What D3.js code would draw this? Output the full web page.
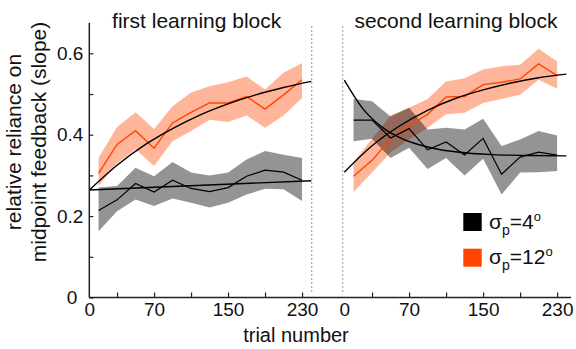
<!DOCTYPE html>
<html>
<head>
<meta charset="utf-8">
<script src="https://cdn.jsdelivr.net/npm/d3@7"></script>
<style>
  body { margin: 0; background: #fff; }
  svg text { font-family: "Liberation Sans", Arial, sans-serif; fill: #111; }
</style>
</head>
<body>
<div id="container"></div>
<script>
/* CONSTANTS AND GLOBALS */
const width = 576,
  height = 349;

// trial bins (centres), same in both blocks
const bins = [10, 30, 50, 70, 90, 110, 130, 150, 170, 190, 210, 230];

// first learning block
const orange1 = [0.305, 0.376, 0.410, 0.367, 0.429, 0.455, 0.478, 0.478, 0.494, 0.463, 0.498, 0.535];
const orange1Hi = [0.343, 0.419, 0.455, 0.414, 0.470, 0.504, 0.519, 0.529, 0.543, 0.511, 0.552, 0.576];
const orange1Lo = [0.274, 0.329, 0.364, 0.323, 0.384, 0.409, 0.437, 0.431, 0.447, 0.417, 0.447, 0.490];
const black1 = [0.214, 0.240, 0.280, 0.259, 0.288, 0.268, 0.260, 0.270, 0.298, 0.313, 0.308, 0.288];
const black1Hi = [0.270, 0.274, 0.319, 0.298, 0.333, 0.307, 0.300, 0.307, 0.339, 0.360, 0.351, 0.343];
const black1Lo = [0.163, 0.212, 0.241, 0.225, 0.243, 0.233, 0.221, 0.233, 0.253, 0.267, 0.266, 0.237];

// second learning block
const orange2 = [0.298, 0.337, 0.390, 0.423, 0.450, 0.493, 0.494, 0.523, 0.529, 0.537, 0.574, 0.545];
const orange2Hi = [0.333, 0.390, 0.447, 0.466, 0.488, 0.531, 0.539, 0.560, 0.568, 0.572, 0.611, 0.580];
const orange2Lo = [0.259, 0.307, 0.356, 0.388, 0.417, 0.450, 0.454, 0.478, 0.488, 0.498, 0.535, 0.513];
const black2 = [0.436, 0.436, 0.392, 0.415, 0.363, 0.382, 0.350, 0.391, 0.303, 0.345, 0.357, 0.350];
const black2Hi = [0.488, 0.482, 0.445, 0.466, 0.413, 0.417, 0.413, 0.439, 0.372, 0.388, 0.409, 0.398];
const black2Lo = [0.384, 0.390, 0.343, 0.368, 0.316, 0.343, 0.300, 0.341, 0.253, 0.307, 0.308, 0.311];

// fitted curves
const fit1OrangeT = [0, 30, 60, 90, 120, 150, 180, 210, 240];
const fit1Orange = [0.264, 0.325, 0.375, 0.415, 0.449, 0.476, 0.498, 0.516, 0.531];
const fit1BlackT = [0, 240];
const fit1Black = [0.264, 0.287];
const fit2BlackT = [0, 20, 40, 60, 80, 100, 120, 160, 200, 240];
const fit2Black = [0.534, 0.464, 0.420, 0.393, 0.376, 0.365, 0.358, 0.351, 0.349, 0.348];
const fit2OrangeT = [0, 30, 60, 90, 120, 150, 180, 210, 240];
const fit2Orange = [0.308, 0.373, 0.422, 0.460, 0.489, 0.510, 0.527, 0.540, 0.549];

// ticks
const xTicks = [0, 30, 70, 110, 150, 190, 230];
const xTickLabels = [0, 70, 150, 230];
const yTicks = [0, 0.1, 0.2, 0.3, 0.4, 0.5, 0.6];
const yTickLabels = [0, 0.2, 0.4, 0.6];

const titles = ["first learning block", "second learning block"];
const legendLabels = ["4", "12"];
const colors = {orange: "#ff4500", black: "#000"};

/* SCALES */
const x1 = d3.scaleLinear().domain([0, 240]).range([89.3, 311.3]);
const x2 = d3.scaleLinear().domain([0, 245]).range([344.3, 571]);
const y = d3.scaleLinear().domain([0, 0.675]).range([297.5, 22.8]);

const svg = d3.select("#container")
  .append("svg")
  .attr("width", width)
  .attr("height", height);

/* DRAW ONE BLOCK */
function drawBlock(x, orange, orangeHi, orangeLo, black, blackHi, blackLo, fits) {
  const band = (hi, lo) => d3.area()
    .x((d, i) => x(bins[i]))
    .y0((d, i) => y(lo[i]))
    .y1((d, i) => y(hi[i]))(bins);
  const line = vals => d3.line()
    .x((d, i) => x(bins[i]))
    .y((d, i) => y(vals[i]))(bins);

  svg.append("path").attr("d", band(orangeHi, orangeLo))
    .attr("fill", colors.orange).attr("fill-opacity", 0.4);
  svg.append("path").attr("d", band(blackHi, blackLo))
    .attr("fill", "#000").attr("fill-opacity", 0.42);

  svg.append("path").attr("d", line(orange))
    .attr("fill", "none").attr("stroke", colors.orange).attr("stroke-width", 1.4);
  svg.append("path").attr("d", line(black))
    .attr("fill", "none").attr("stroke", "#000").attr("stroke-width", 1.2);

  fits.forEach(f => {
    svg.append("path")
      .attr("d", d3.line()
        .curve(d3.curveMonotoneX)
        .x((d, i) => x(f.t[i]))
        .y((d, i) => y(f.v[i]))(f.t))
      .attr("fill", "none")
      .attr("stroke", "#000")
      .attr("stroke-width", 1.4);
  });
}

// dotted separators
[x1(240.5), x2(-1.7)].forEach(xp => {
  svg.append("line")
    .attr("x1", xp).attr("x2", xp)
    .attr("y1", 26).attr("y2", 294)
    .attr("stroke", "#999")
    .attr("stroke-width", 1)
    .attr("stroke-dasharray", "2,2");
});

drawBlock(x1, orange1, orange1Hi, orange1Lo, black1, black1Hi, black1Lo, [
  {t: fit1OrangeT, v: fit1Orange},
  {t: fit1BlackT, v: fit1Black}
]);
drawBlock(x2, orange2, orange2Hi, orange2Lo, black2, black2Hi, black2Lo, [
  {t: fit2OrangeT, v: fit2Orange},
  {t: fit2BlackT, v: fit2Black}
]);

/* AXES */
const yAxis = d3.axisLeft(y)
  .tickValues(yTicks)
  .tickSizeInner(-4)
  .tickSizeOuter(0)
  .tickPadding(6)
  .tickFormat(d => yTickLabels.includes(d) ? (d === 0 ? "0" : d3.format(".1f")(d)) : "");

const yAxisGroup = svg.append("g")
  .attr("transform", `translate(${x1(0)}, 0)`)
  .call(yAxis);
yAxisGroup.select(".domain").remove();
yAxisGroup.selectAll("text")
  .style("font-size", "19px")
  .attr("fill", "#111");
yAxisGroup.selectAll(".tick").filter(d => d === 0).select("text").attr("x", -12);
yAxisGroup.selectAll(".tick line").attr("stroke", "#222").attr("stroke-width", 1.2);

[x1, x2].forEach((x, k) => {
  const xAxis = d3.axisBottom(x)
    .tickValues(xTicks)
    .tickSizeInner(-5)
    .tickSizeOuter(0)
    .tickPadding(5)
    .tickFormat(d => xTickLabels.includes(d) ? d : "");
  const g = svg.append("g")
    .attr("transform", `translate(0, ${y(0)})`)
    .call(xAxis);
  g.select(".domain").remove();
  g.selectAll("text").style("font-size", "19px").attr("fill", "#111");
  g.selectAll(".tick line").attr("stroke", "#222").attr("stroke-width", 1.2);
  g.selectAll(".tick").filter(d => d === 0).select("line").remove();
});

// axis lines
svg.append("line")
  .attr("x1", x1(0)).attr("x2", x2.range()[1])
  .attr("y1", y(0)).attr("y2", y(0))
  .attr("stroke", "#222").attr("stroke-width", 1.5);
svg.append("line")
  .attr("x1", x1(0)).attr("x2", x1(0))
  .attr("y1", y(0)).attr("y2", y.range()[1])
  .attr("stroke", "#222").attr("stroke-width", 1.5);

/* TITLES AND LABELS */
svg.append("text")
  .attr("x", 196.7).attr("y", 28)
  .attr("text-anchor", "middle")
  .style("font-size", "21px")
  .text(titles[0]);
svg.append("text")
  .attr("x", 456).attr("y", 28)
  .attr("text-anchor", "middle")
  .style("font-size", "21px")
  .text(titles[1]);

svg.append("text")
  .attr("x", 296).attr("y", 342)
  .attr("text-anchor", "middle")
  .style("font-size", "20px")
  .text("trial number");

const yLabel = svg.append("text")
  .attr("transform", "translate(0, 142) rotate(-90)")
  .attr("text-anchor", "middle")
  .style("font-size", "21px");
yLabel.append("tspan").attr("x", 0).attr("y", 21).text("relative reliance on");
yLabel.append("tspan").attr("x", 0).attr("y", 46).text("midpoint feedback (slope)");

/* LEGEND */
const legend = svg.append("g");
legendLabels.forEach((lab, i) => {
  const ly = 213 + i * 35.7;
  legend.append("rect")
    .attr("x", 463.3).attr("y", ly)
    .attr("width", 18.4).attr("height", 18)
    .attr("fill", i === 0 ? colors.black : colors.orange);
  const t = legend.append("text")
    .attr("x", 489).attr("y", ly + 15.5)
    .style("font-size", "21px");
  t.append("tspan").text("σ");
  t.append("tspan").attr("dy", 6).style("font-size", "14px").text("p");
  t.append("tspan").attr("dy", -6).text("=" + lab);
  t.append("tspan").attr("dy", -8).style("font-size", "13px").text("o");
});
</script>
</body>
</html>
